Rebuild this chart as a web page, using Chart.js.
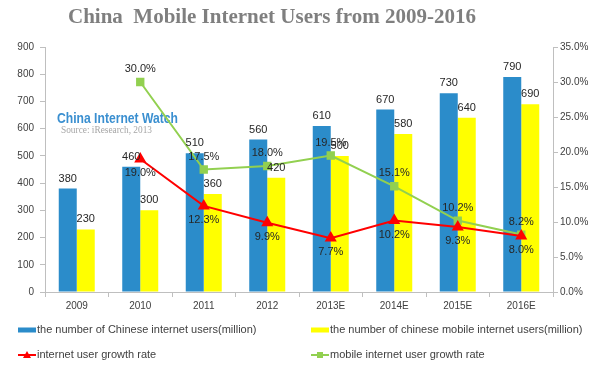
<!DOCTYPE html>
<html><head><meta charset="utf-8">
<script src="https://cdn.jsdelivr.net/npm/chart.js@4"></script>
<style>
html,body{margin:0;padding:0;background:#fff;}
#wrap{position:relative;width:600px;height:368px;}
#title{position:absolute;left:68px;top:4px;font:bold 21px "Liberation Serif";color:#7f7f7f;white-space:pre;}
canvas{position:absolute;left:0;top:0;}
</style></head>
<body>
<div id="wrap">
<canvas id="c" width="600" height="368"></canvas>
<div id="title">China  Mobile Internet Users from 2009-2016</div>
</div>
<script>
const years = ['2009','2010','2011','2012','2013E','2014E','2015E','2016E'];
const internetUsers = [380,460,510,560,610,670,730,790];
const mobileUsers = [230,300,360,420,500,580,640,690];
const internetGrowth = [null,19.0,12.3,9.9,7.7,10.2,9.3,8.0];
const mobileGrowth = [null,30.0,17.5,18.0,19.5,15.1,10.2,8.2];
const leftTicks = {min:0,max:900,step:100};
const rightTicks = {min:0,max:35,step:5};

const FONT = '"Liberation Sans"';
const BLUE='#2b8cca', YELLOW='#ffff00', RED='#ff0000', GREEN='#92d050';

const labelPlugin = {
  id:'labels',
  afterDatasetsDraw(chart){
    const ctx=chart.ctx; ctx.save();
    ctx.font='11px '+FONT; ctx.fillStyle='#262626';
    ctx.textAlign='center'; ctx.textBaseline='middle';
    chart.data.datasets.forEach((ds,i)=>{
      const meta=chart.getDatasetMeta(i);
      meta.data.forEach((el,j)=>{
        const v=ds.data[j]; if(v==null) return;
        let txt,y;
        if(ds.type==='bar'){ txt=String(v); y=el.y-10; }
        else { txt=v.toFixed(1)+'%'; y = ds.labelBelow ? el.y+14 : el.y-13; }
        ctx.fillText(txt, el.x, y);
      });
    });
    ctx.restore();
  }
};

const watermarkPlugin = {
  id:'watermark',
  beforeDatasetsDraw(chart){
    const ctx=chart.ctx; ctx.save();
    ctx.textBaseline='middle'; ctx.textAlign='left';
    ctx.font='bold 15px '+FONT;
    const t1='China Internet Watch';
    const w1=ctx.measureText(t1).width;
    ctx.translate(57,119); ctx.scale(121/w1,1);
    ctx.fillStyle='#3a8fd0';
    ctx.fillText(t1,0,0);
    ctx.setTransform(1,0,0,1,0,0);
    ctx.font='10px "Liberation Serif"';
    ctx.fillStyle='#a6a6a6';
    const t2='Source: iResearch, 2013';
    const w2=ctx.measureText(t2).width;
    ctx.translate(61,130); ctx.scale(91/w2,1);
    ctx.fillText(t2,0,0);
    ctx.restore();
  }
};

const legendPlugin = {
  id:'customLegend',
  afterDraw(chart){
    const ctx=chart.ctx; ctx.save();
    ctx.font='11px '+FONT; ctx.fillStyle='#404040';
    ctx.textBaseline='middle'; ctx.textAlign='left';
    const pos=[[18,330],[311,330],[18,355],[311,355]];
    chart.data.datasets.forEach((ds,i)=>{
      const [x,y]=pos[i];
      if(ds.type==='bar'){
        ctx.fillStyle=ds.backgroundColor;
        ctx.fillRect(x,y-2.5,18,5);
      } else {
        ctx.strokeStyle=ds.borderColor; ctx.lineWidth=2;
        ctx.beginPath(); ctx.moveTo(x,y); ctx.lineTo(x+18,y); ctx.stroke();
        ctx.fillStyle=ds.borderColor;
        if(ds.pointStyle==='triangle'){
          ctx.beginPath(); ctx.moveTo(x+9,y-4); ctx.lineTo(x+13,y+3); ctx.lineTo(x+5,y+3); ctx.closePath(); ctx.fill();
        } else {
          ctx.fillRect(x+6,y-3,6,6);
        }
      }
      ctx.fillStyle='#404040';
      ctx.fillText(ds.label, x+19, y);
    });
    ctx.restore();
  }
};

new Chart(document.getElementById('c'), {
  data:{
    labels:years,
    datasets:[
      {type:'bar',label:'the number of Chinese internet users(million)',data:internetUsers,backgroundColor:BLUE,yAxisID:'y',order:2,barPercentage:1,categoryPercentage:0.567},
      {type:'bar',label:'the number of chinese mobile internet users(million)',data:mobileUsers,backgroundColor:YELLOW,yAxisID:'y',order:2,barPercentage:1,categoryPercentage:0.567},
      {type:'line',label:'internet user growth rate',data:internetGrowth,borderColor:RED,backgroundColor:RED,borderWidth:2,pointStyle:'triangle',pointRadius:5,yAxisID:'y1',order:0,labelBelow:true,tension:0},
      {type:'line',label:'mobile internet user growth rate',data:mobileGrowth,borderColor:GREEN,backgroundColor:GREEN,borderWidth:2,pointStyle:'rect',pointRadius:4.5,yAxisID:'y1',order:1,labelBelow:false,tension:0}
    ]
  },
  options:{
    responsive:false, animation:false,
    layout:{padding:{top:47,left:0,right:0,bottom:0}},
    plugins:{legend:{display:false},tooltip:{enabled:false},title:{display:false}},
    scales:{
      x:{
        grid:{offset:true,drawOnChartArea:false,drawTicks:true,tickLength:5,color:'#bfbfbf'},
        border:{color:'#bfbfbf'},
        ticks:{font:{family:'Liberation Sans',size:10},color:'#404040',padding:3,maxRotation:0},
        afterFit(s){s.height=76;}
      },
      y:{
        position:'left',min:leftTicks.min,max:leftTicks.max,
        ticks:{stepSize:leftTicks.step,font:{family:'Liberation Sans',size:10},color:'#404040',padding:6},
        grid:{drawOnChartArea:false,tickLength:5,color:'#bfbfbf'},
        border:{color:'#bfbfbf'},
        afterFit(s){s.width=45;}
      },
      y1:{
        position:'right',min:rightTicks.min,max:rightTicks.max,
        ticks:{stepSize:rightTicks.step,font:{family:'Liberation Sans',size:10},color:'#404040',padding:2,callback:v=>v.toFixed(1)+'%'},
        grid:{drawOnChartArea:false,tickLength:5,color:'#bfbfbf'},
        border:{color:'#bfbfbf'},
        afterFit(s){s.width=47;}
      }
    }
  },
  plugins:[watermarkPlugin,labelPlugin,legendPlugin]
});
</script>
</body></html>
